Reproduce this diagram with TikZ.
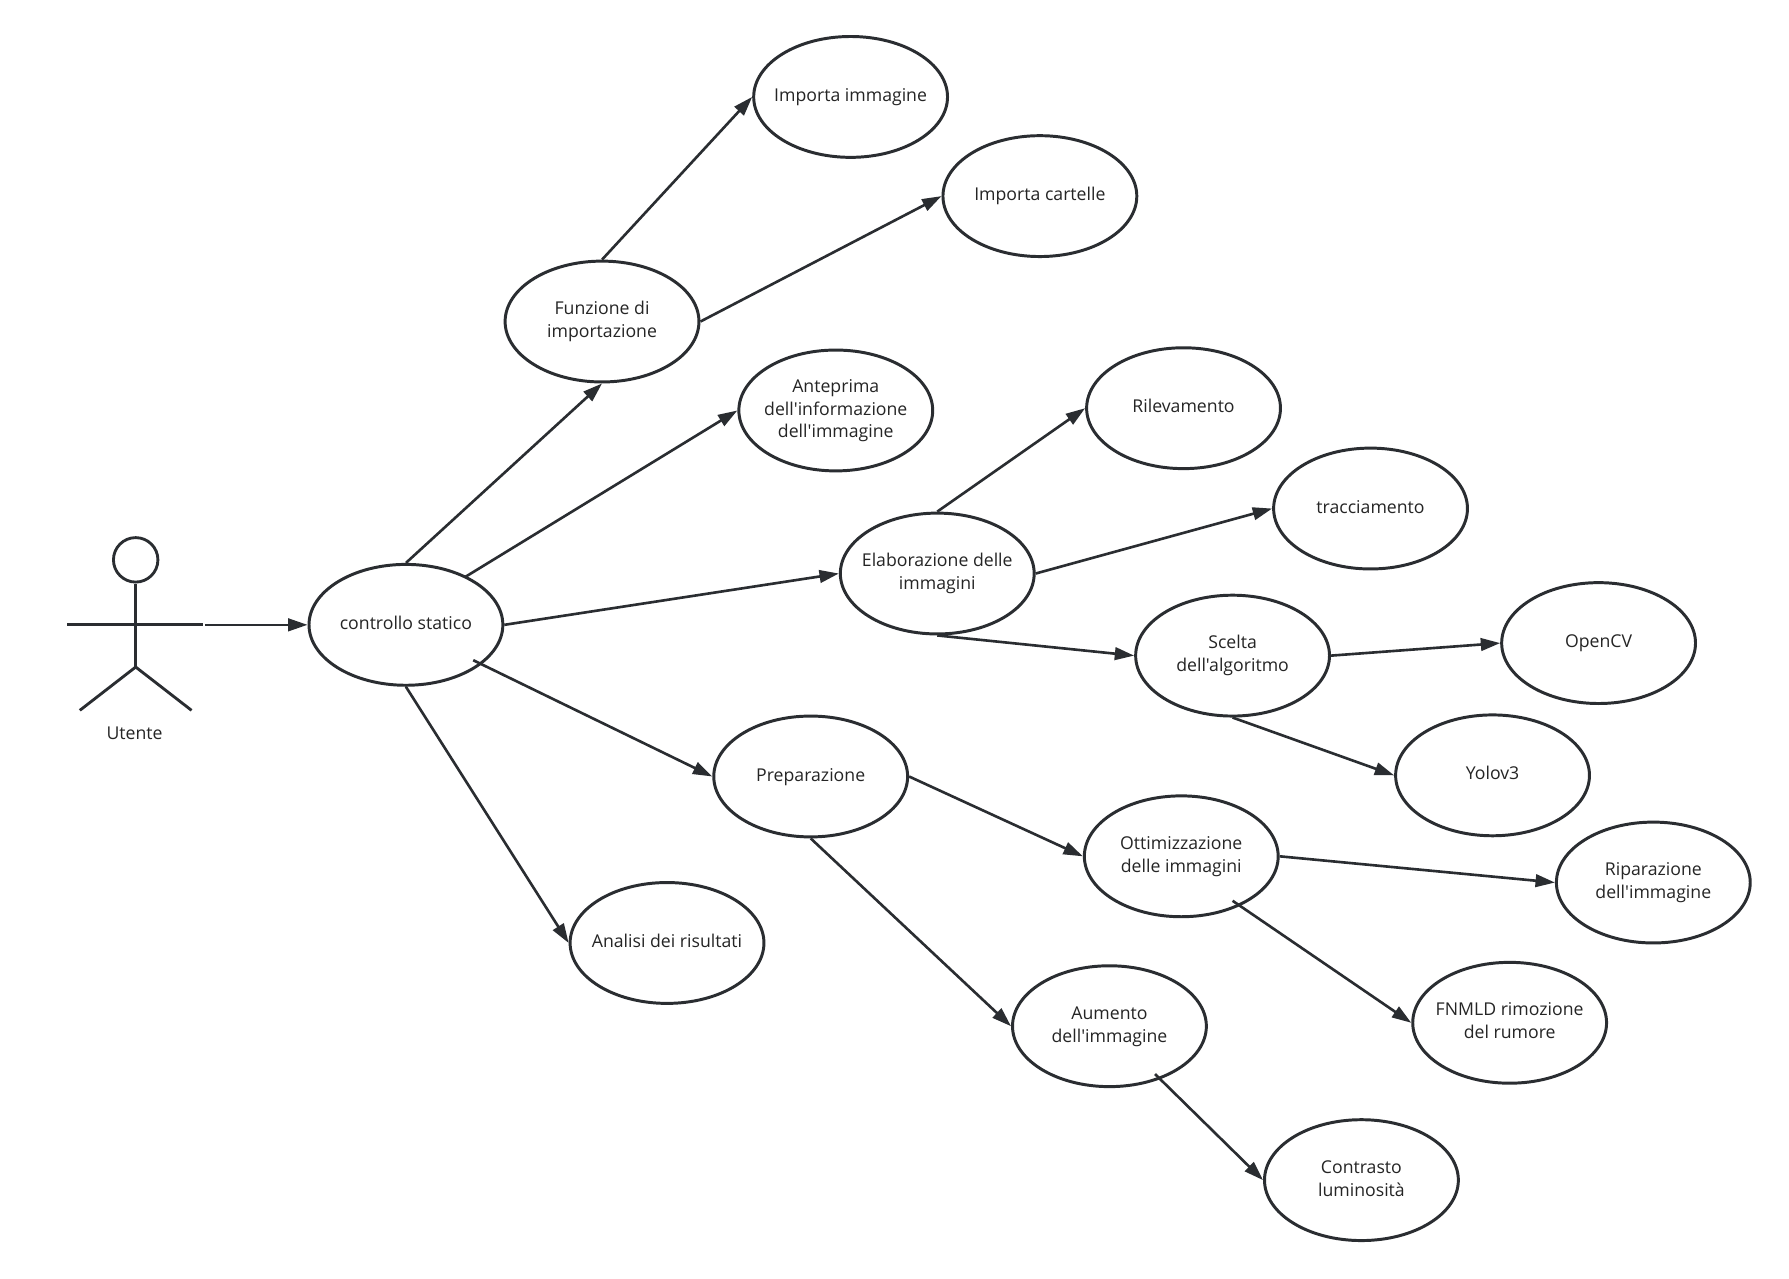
\documentclass[tikz,border=0pt]{standalone}
\usepackage{fontspec}
\newfontfamily\uifont{Open Sans}
\usetikzlibrary{shapes.geometric,arrows.meta,calc}
\definecolor{lc}{HTML}{2A2D31}
\definecolor{tc}{HTML}{252525}
\newcommand{\ucText}[1]{\makebox[0pt][c]{\begin{tabular}{@{}c@{}}#1\end{tabular}}}
\begin{document}
\begin{tikzpicture}[x=1pt,y=-1pt,
  uc/.style={ellipse,draw=lc,line width=2.6pt,minimum width=170pt,minimum height=106pt,inner sep=0pt,
    text=tc,font=\uifont\fontsize{15.5}{20}\selectfont},
  conn/.style={draw=lc,line width=2.3pt,-{Triangle[length=17pt,width=11pt]}},
  actorline/.style={draw=lc,line width=2.5pt}]
\useasboundingbox[fill=white] (0,0) rectangle (1569,1121);
% actor
\node[circle,draw=lc,line width=2.5pt,minimum size=39pt,inner sep=0pt] (head) at (119,491) {};
\coordinate (hip) at (119,585);
\coordinate (armL) at (59,548);
\coordinate (armR) at (178,548);
\coordinate (legL) at (70,623);
\coordinate (legR) at (168,623);
\coordinate (hand) at (180,548);
\draw[actorline] (head.south) -- (hip);
\draw[actorline] (armL) -- (armR);
\draw[actorline] (legL) -- (hip) -- (legR);
\node[text=tc,font=\uifont\fontsize{15.5}{20}\selectfont] (utente) at (118,643) {Utente};
% use cases
\node[uc] (ctrl) at (356,548) {\ucText{controllo statico}};
\node[uc] (funz) at (528,282) {\ucText{Funzione di\\importazione}};
\node[uc] (imm) at (746,85) {\ucText{Importa immagine}};
\node[uc] (cart) at (912,172) {\ucText{Importa cartelle}};
\node[uc] (antep) at (733,360) {\ucText{Anteprima\\dell'informazione\\dell'immagine}};
\node[uc] (elab) at (822,503) {\ucText{Elaborazione delle\\immagini}};
\node[uc] (ril) at (1038,358) {\ucText{Rilevamento}};
\node[uc] (trac) at (1202,446) {\ucText{tracciamento}};
\node[uc] (scelta) at (1081,575) {\ucText{Scelta\\dell'algoritmo}};
\node[uc] (opencv) at (1402,564) {\ucText{OpenCV}};
\node[uc] (yolo) at (1309,680) {\ucText{Yolov3}};
\node[uc] (prep) at (711,681) {\ucText{Preparazione}};
\node[uc] (ottim) at (1036,751) {\ucText{Ottimizzazione\\delle immagini}};
\node[uc] (ripar) at (1450,774) {\ucText{Riparazione\\dell'immagine}};
\node[uc] (fnmld) at (1324,897) {\ucText{FNMLD rimozione\\del rumore}};
\node[uc] (anal) at (585,827) {\ucText{Analisi dei risultati}};
\node[uc] (aum) at (973,900) {\ucText{Aumento\\dell'immagine}};
\node[uc] (contr) at (1194,1035) {\ucText{Contrasto\\luminosità}};
% connectors
\draw[conn] (hand) -- (ctrl.west);
\draw[conn] (ctrl.north) -- (funz.south);
\draw[conn] (funz.north) -- (imm.west);
\draw[conn] (funz.east) -- (cart.west);
\draw[conn] ($(ctrl.center)+(52,-42)$) -- (antep.west);
\draw[conn] (ctrl.east) -- (elab.west);
\draw[conn] (elab.north) -- (ril.west);
\draw[conn] (elab.east) -- (trac.west);
\draw[conn] (elab.south) -- (scelta.west);
\draw[conn] (scelta.east) -- (opencv.west);
\draw[conn] (scelta.south) -- (yolo.west);
\draw[conn] ($(ctrl.center)+(59,31)$) -- (prep.west);
\draw[conn] (prep.east) -- (ottim.west);
\draw[conn] (ottim.east) -- (ripar.west);
\draw[conn] ($(ottim.center)+(45,39)$) -- (fnmld.west);
\draw[conn] (prep.south) -- (aum.west);
\draw[conn] (ctrl.south) -- (anal.west);
\draw[conn] ($(aum.center)+(40,42)$) -- (contr.west);
\end{tikzpicture}
\end{document}
